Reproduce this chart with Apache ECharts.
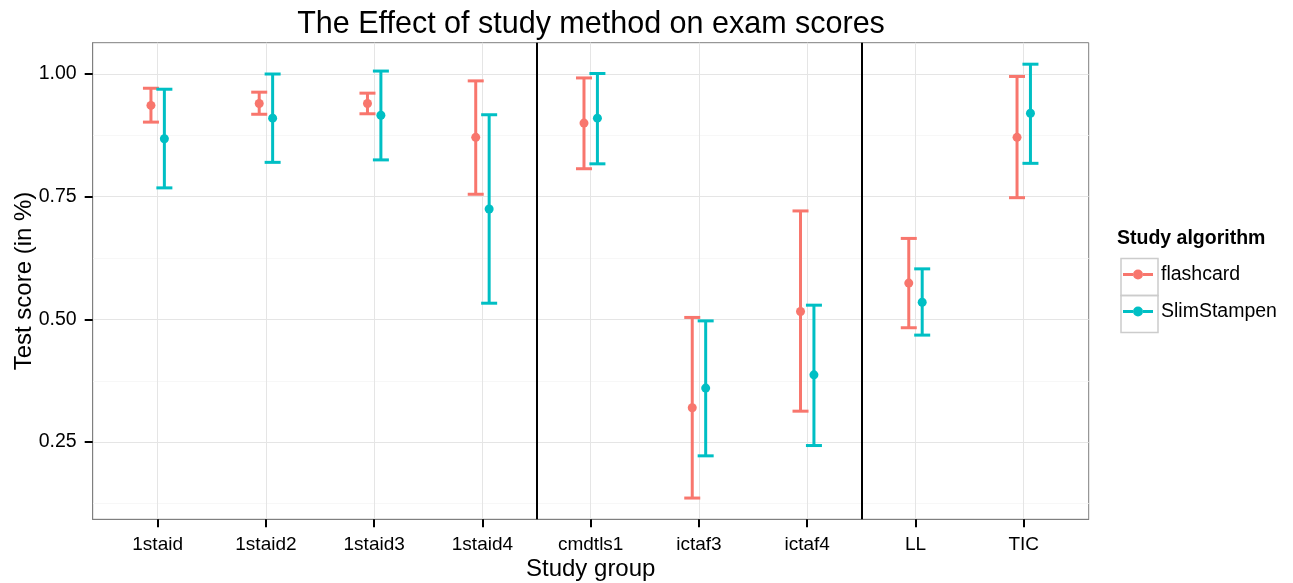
<!DOCTYPE html>
<html>
<head>
<meta charset="utf-8">
<script src="https://cdn.jsdelivr.net/npm/echarts@6/dist/echarts.min.js"></script>
<style>
  html, body { margin: 0; padding: 0; background: #fff; }
  #main { width: 1293px; height: 583px; }
</style>
</head>
<body>
<div id="main"></div>
<script>
var categories = ['1staid', '1staid2', '1staid3', '1staid4', 'cmdtls1', 'ictaf3', 'ictaf4', 'LL', 'TIC'];

var flashMean = [0.936, 0.940, 0.940, 0.871, 0.900, 0.320, 0.516, 0.574, 0.871];
var flashLow  = [0.902, 0.918, 0.919, 0.755, 0.807, 0.136, 0.313, 0.483, 0.748];
var flashHigh = [0.971, 0.963, 0.961, 0.986, 0.992, 0.504, 0.721, 0.665, 0.995];

var slimMean = [0.868, 0.910, 0.916, 0.725, 0.910, 0.360, 0.387, 0.535, 0.920];
var slimLow  = [0.768, 0.820, 0.825, 0.533, 0.817, 0.222, 0.243, 0.468, 0.818];
var slimHigh = [0.969, 1.000, 1.006, 0.917, 1.001, 0.497, 0.529, 0.603, 1.020];

var yTicks = [0.25, 0.5, 0.75, 1.0];
var yMinor = [0.125, 0.375, 0.625, 0.875];
var separators = [3.5, 6.5];

var font = 'Liberation Sans, Arial, sans-serif';
var myChart = echarts.init(document.getElementById('main'));

function rows(mean, low, high) {
  return categories.map(function (c, i) {
    return [i, mean[i], low[i], high[i]];
  });
}

function errorBar(dodge, color) {
  return function (params, api) {
    var x = api.value(0) + dodge;
    var mid = api.coord([x, api.value(1)]);
    var lo = api.coord([x, api.value(2)]);
    var hi = api.coord([x, api.value(3)]);
    var half = 8;
    var st = { stroke: color, lineWidth: 3 };
    return {
      type: 'group',
      children: [
        { type: 'line', shape: { x1: lo[0], y1: lo[1], x2: hi[0], y2: hi[1] }, style: st },
        { type: 'line', shape: { x1: lo[0] - half, y1: lo[1], x2: lo[0] + half, y2: lo[1] }, style: st },
        { type: 'line', shape: { x1: hi[0] - half, y1: hi[1], x2: hi[0] + half, y2: hi[1] }, style: st },
        { type: 'circle', shape: { cx: mid[0], cy: mid[1], r: 4.5 }, style: { fill: color } }
      ]
    };
  };
}

var keyIcon = 'path://M0,3.5 H10 V6.5 H0 Z M20,3.5 H30 V6.5 H20 Z M10,5 A5,5 0 1,1 20,5 A5,5 0 1,1 10,5 Z';

var option = {
  animation: false,
  textStyle: { fontFamily: font },
  title: {
    text: 'The Effect of study method on exam scores',
    left: 586,
    top: 4,
    textAlign: 'center',
    textStyle: { fontSize: 30.5, fontWeight: 'normal', color: '#000', fontFamily: font }
  },
  grid: {
    left: 92.7, right: 204.3, top: 42.7, bottom: 63.7,
    outerBoundsMode: 'none',
    containLabel: false,
    show: true, borderColor: '#7f7f7f', borderWidth: 1, backgroundColor: '#fff'
  },
  legend: {
    orient: 'vertical',
    left: 1123,
    top: 256,
    padding: 0,
    itemWidth: 30,
    itemHeight: 10,
    itemGap: 0,
    icon: keyIcon,
    textStyle: { fontSize: 19.5, color: '#000', lineHeight: 37, padding: [0, 0, 0, 3], fontFamily: font },
    data: ['flashcard', 'SlimStampen']
  },
  graphic: [
    { type: 'text', left: 1117, top: 229, style: { text: 'Study algorithm', fill: '#000', font: 'bold 19.5px ' + font } },
    { type: 'rect', left: 1118.5, top: 256, shape: { width: 37, height: 37 }, style: { fill: 'none', stroke: '#cccccc', lineWidth: 1.5 }, z: -1 },
    { type: 'rect', left: 1118.5, top: 293, shape: { width: 37, height: 37 }, style: { fill: 'none', stroke: '#cccccc', lineWidth: 1.5 }, z: -1 }
  ],
  xAxis: {
    type: 'value',
    min: -0.6,
    max: 8.6,
    name: 'Study group',
    nameLocation: 'middle',
    nameGap: 38,
    nameMoveOverlap: false,
    nameTextStyle: { fontSize: 24, color: '#000', fontFamily: font },
    axisLine: { show: true, onZero: false, lineStyle: { color: '#7f7f7f', width: 1 } },
    axisTick: { show: true, length: 8, customValues: [0, 1, 2, 3, 4, 5, 6, 7, 8], lineStyle: { color: '#000', width: 2 } },
    axisLabel: {
      customValues: [0, 1, 2, 3, 4, 5, 6, 7, 8],
      margin: 16,
      fontSize: 19,
      color: '#000',
      formatter: function (v) { return categories[Math.round(v)]; }
    },
    splitLine: { show: true, lineStyle: { color: '#e5e5e5', width: 1 } }
  },
  yAxis: [{
    type: 'value',
    min: 0.0927,
    max: 1.0638,
    name: 'Test score (in %)',
    nameLocation: 'middle',
    nameRotate: 90,
    nameGap: 56,
    nameMoveOverlap: false,
    nameTextStyle: { fontSize: 24, color: '#000', fontFamily: font },
    axisLine: { show: true, onZero: false, lineStyle: { color: '#7f7f7f', width: 1 } },
    axisTick: { show: true, length: 8, customValues: yTicks, lineStyle: { color: '#000', width: 2 } },
    axisLabel: {
      customValues: yTicks,
      margin: 16,
      fontSize: 19.5,
      color: '#000',
      formatter: function (v) { return v.toFixed(2); }
    },
    splitLine: { show: true, lineStyle: { color: '#e5e5e5', width: 1 } }
  }, {
    type: 'value',
    min: 0.0927,
    max: 1.0638,
    position: 'left',
    axisLine: { show: false, onZero: false },
    axisTick: { show: false, customValues: yMinor },
    axisLabel: { show: false },
    splitLine: { show: true, lineStyle: { color: '#f7f7f7', width: 1 } }
  }],
  series: [
    {
      name: 'flashcard',
      type: 'custom',
      itemStyle: { color: '#F8766D' },
      renderItem: errorBar(-0.062, '#F8766D'),
      encode: { x: 0, y: [1, 2, 3] },
      data: rows(flashMean, flashLow, flashHigh),
      markLine: {
        silent: true,
        symbol: ['none', 'none'],
        label: { show: false },
        lineStyle: { color: '#000', width: 2, type: 'solid' },
        data: separators.map(function (s) { return { xAxis: s }; })
      },
      z: 3
    },
    {
      name: 'SlimStampen',
      type: 'custom',
      itemStyle: { color: '#00BFC4' },
      renderItem: errorBar(0.062, '#00BFC4'),
      encode: { x: 0, y: [1, 2, 3] },
      data: rows(slimMean, slimLow, slimHigh),
      z: 3
    }
  ]
};

myChart.setOption(option);
</script>
</body>
</html>
